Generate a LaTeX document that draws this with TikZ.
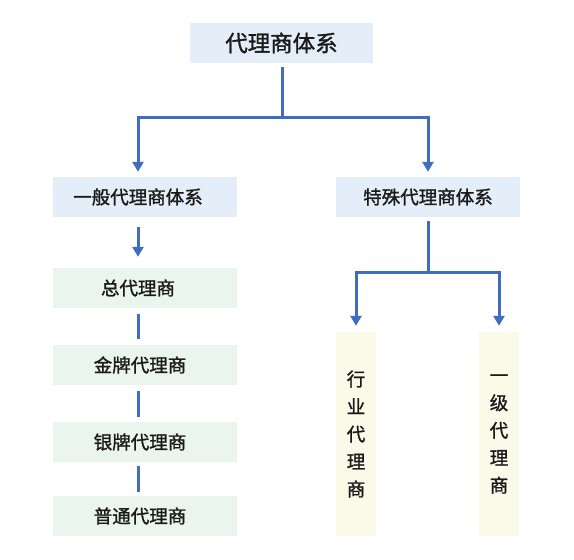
\documentclass[tikz,border=0pt]{standalone}
\usepackage{fontspec}
\newfontfamily\cjk[FakeBold=1.3]{Noto Sans CJK SC}
\usetikzlibrary{arrows.meta}
\definecolor{lineblue}{HTML}{3F6DC0}
\definecolor{boxblue}{HTML}{E4EEF8}
\definecolor{boxgreen}{HTML}{EAF5EE}
\definecolor{boxyellow}{HTML}{FBF9E8}
\definecolor{txt}{HTML}{1A1A1A}
\tikzset{
  box/.style={rectangle, inner sep=0pt, text=txt, font=\cjk\fontsize{18.5}{20}\selectfont},
  hbox/.style={box, minimum width=184pt, minimum height=40pt},
  bluebox/.style={hbox, fill=boxblue},
  greenbox/.style={hbox, fill=boxgreen},
  vbox/.style={box, fill=boxyellow, minimum width=40pt, minimum height=204pt, align=center},
  conn/.style={draw=lineblue, line width=3pt},
  arr/.style={conn, -{Triangle[width=11pt,length=10pt]}},
}
\begin{document}
\begin{tikzpicture}[x=1pt,y=-1pt]
\useasboundingbox (0,0) rectangle (574,560);
\node[bluebox, minimum width=183pt, font=\cjk\fontsize{22.5}{24}\selectfont] (top) at (281.5,43) {代理商体系};
\node[bluebox] (gen) at (145,197) {\kern-14pt 一般代理商体系};
\node[bluebox] (spe) at (428,197) {特殊代理商体系};
\node[greenbox] (z1) at (145,288) {\kern-14pt 总代理商};
\node[greenbox] (z2) at (145,365) {\kern-10pt 金牌代理商};
\node[greenbox] (z3) at (145,442) {\kern-10pt 银牌代理商};
\node[greenbox] (z4) at (145,516) {\kern-10pt 普通代理商};
\node[vbox, font=\cjk\fontsize{18.5}{27.5}\selectfont] (hy) at (356,434) {行\\业\\代\\理\\商};
\node[vbox, font=\cjk\fontsize{18.5}{27.5}\selectfont] (yj) at (499,434) {一\\级\\代\\理\\商};
\coordinate (j1) at (282,117);
\coordinate (j2) at (428,272);
\draw[arr] ([yshift=-4pt]top.south -| j1) -- (j1) -| ([xshift=-7pt,yshift=5pt]gen.north);
\draw[arr] (j1) -| ([yshift=5pt]spe.north);
\draw[arr] ([xshift=-7pt,yshift=-10pt]gen.south) -- ([xshift=-7pt,yshift=11pt]z1.north);
\draw[conn] ([xshift=-7pt,yshift=-6pt]z1.south) -- ([xshift=-7pt,yshift=6pt]z2.north);
\draw[conn] ([xshift=-7pt,yshift=-6pt]z2.south) -- ([xshift=-7pt,yshift=5pt]z3.north);
\draw[conn] ([xshift=-7pt,yshift=-4pt]z3.south) -- ([xshift=-7pt,yshift=4pt]z4.north);
\draw[conn] ([yshift=-4pt]spe.south) -- (j2);
\draw[arr] (j2) -| ([yshift=6pt]hy.north);
\draw[arr] (j2) -| ([yshift=6pt]yj.north);
\end{tikzpicture}
\end{document}
